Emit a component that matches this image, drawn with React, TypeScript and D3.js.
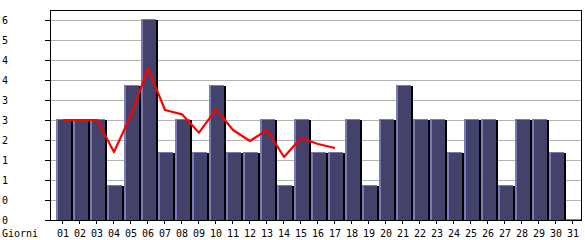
import React from "react";
import * as d3 from "d3";

const days = ["01","02","03","04","05","06","07","08","09","10","11","12","13","14","15","16","17","18","19","20","21","22","23","24","25","26","27","28","29","30","31"];
const barValues = [3,3,3,1,4,6,2,3,2,4,2,2,3,1,3,2,2,3,1,3,4,3,3,2,3,3,1,3,3,2,0];
const lineDays = ["01","02","03","04","05","06","07","08","09","10","11","12","13","14","15","16","17"];
const lineValues = [3,3,3,2.04,3.15,4.55,3.3,3.17,2.62,3.32,2.7,2.37,2.7,1.89,2.46,2.28,2.16];
const yTickValues = [0,0.6,1.2,1.8,2.4,3,3.6,4.2,4.8,5.4,6];
const yTickLabels = ["0","0","1","1","2","3","3","4","4","5","6"];
const xTitle = "Giorni";

const W = 585, H = 240;
const plotLeft = 50, plotRight = 582, plotTop = 10, plotBottom = 220;

export default function App() {
  const x = d3.scaleBand<string>().domain(days).range([54.5, 581.5]).padding(0);
  const y = d3.scaleLinear().domain([0, 6]).range([plotBottom, 20]);
  const bw = x.bandwidth();
  const line = d3.line<number>()
    .x((_, i) => (x(lineDays[i]) as number) + bw / 2)
    .y((d) => y(d));
  const font = "'DejaVu Sans Mono', monospace";
  return (
    <svg width={W} height={H} style={{ position: "absolute", left: 0, top: 0, background: "#fff" }}
      fontFamily={font} fontSize={10}>
      <rect x={0} y={0} width={W} height={H} fill="#fff" />
      {/* grid */}
      {yTickValues.map((v, i) => (
        v > 0 ? <line key={"g" + i} x1={plotLeft} x2={plotRight} y1={Math.round(y(v)) + 0.5} y2={Math.round(y(v)) + 0.5}
          stroke="#b4b4b4" strokeWidth={1} /> : null
      ))}
      {/* bars */}
      {barValues.map((v, i) => {
        const bx = Math.round(x(days[i]) as number) + 0.5;
        const top = Math.min(Math.floor(y(v)) - 1, plotBottom - 1);
        const h = plotBottom - top;
        return (
          <g key={"b" + i} shapeRendering="crispEdges">
            <rect x={bx + 15} y={top + 1} width={2} height={h - 1} fill="#000" />
            <rect x={bx} y={top} width={15} height={h} fill="#42426a" />
            <rect x={bx} y={top} width={2} height={h} fill="#7a7ab8" />
            <rect x={bx} y={top} width={15} height={1} fill="#7a7ab8" />
          </g>
        );
      })}
      {/* average line */}
      <path d={line(lineValues) || ""} fill="none" stroke="#ff0000" strokeWidth={2.2} strokeLinejoin="round" />
      {/* frame */}
      <g shapeRendering="crispEdges" stroke="#000">
        <line x1={plotLeft} x2={plotRight} y1={plotTop + 0.5} y2={plotTop + 0.5} />
        <line x1={plotRight - 0.5} x2={plotRight - 0.5} y1={plotTop} y2={plotBottom} />
        <line x1={plotLeft + 0.5} x2={plotLeft + 0.5} y1={plotTop} y2={plotBottom + 1} />
        <line x1={plotLeft} x2={plotRight} y1={plotBottom + 0.5} y2={plotBottom + 0.5} />
        {yTickValues.map((v, i) => (
          <line key={"yt" + i} x1={45} x2={plotLeft} y1={Math.round(y(v)) + 0.5} y2={Math.round(y(v)) + 0.5} />
        ))}
        {days.map((d) => {
          const cx = Math.round((x(d) as number) + bw / 2) - 0.5;
          return <line key={"xt" + d} x1={cx} x2={cx} y1={plotBottom} y2={plotBottom + 4} />;
        })}
      </g>
      {/* y labels */}
      {yTickValues.map((v, i) => (
        <text key={"yl" + i} x={2} y={y(v)} dy="0.35em" fill="#000">{yTickLabels[i]}</text>
      ))}
      {/* x labels */}
      {days.map((d) => (
        <text key={"xl" + d} x={(x(d) as number) + bw / 2} y={237} textAnchor="middle" fill="#000">{d}</text>
      ))}
      <text x={2} y={237} fill="#000">{xTitle}</text>
    </svg>
  );
}
